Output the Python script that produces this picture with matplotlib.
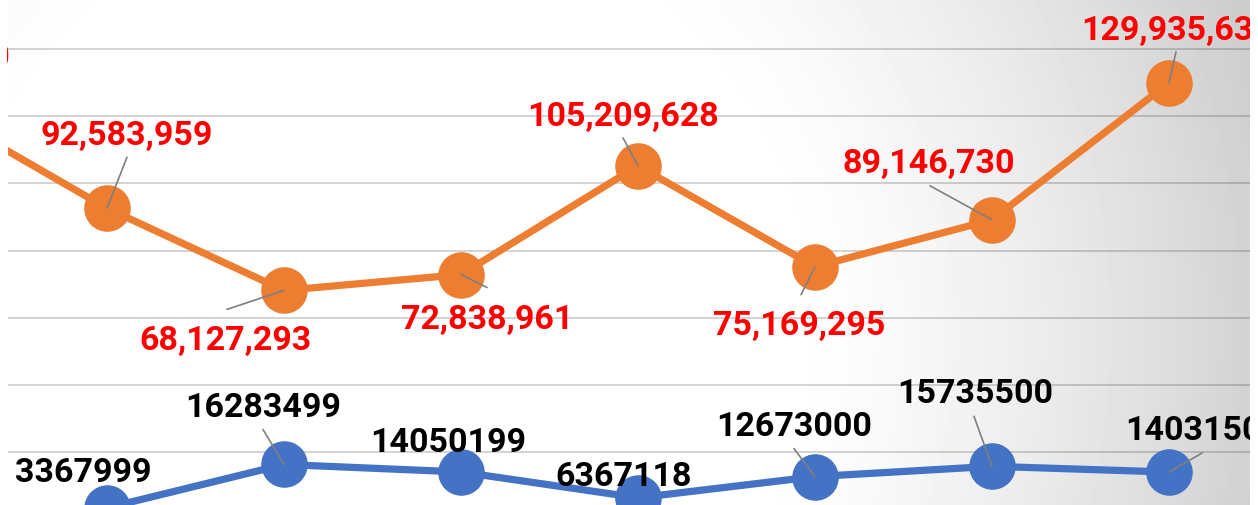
import numpy as np
import matplotlib
matplotlib.use("Agg")
import matplotlib.pyplot as plt
from matplotlib.patches import Rectangle

# data (first point sits left of the visible area)
orange_vals = [123000000, 92583959, 68127293, 72838961, 105209628, 75169295, 89146730, 129935630]
blue_vals = [np.nan, 3367999, 16283499, 14050199, 6367118, 12673000, 15735500, 14031500]
grid_ticks = [20e6, 40e6, 60e6, 80e6, 100e6, 120e6, 140e6]

# label placement in pixels: (dx, dy) of text baseline centre, (lx, ly) of leader start (None = no leader)
orange_pos = [(-16, 40, None), (20, 64, (20, 51)), (-58, -59, (-57, -19)), (26, -53, (26, -13)),
              (-15, 41, (-15, 28)), (-16, -67, (-14, -28)), (-63, 48, (-62, 34)), (8, 44, (7, 31))]
blue_pos = [None, (-24, 27, (-22, 13)), (-21, 48, (-21, 35)), (-13, 21, None), (-14, 13, None),
            (-21, 42, (-21, 28)), (-17, 64, (-18, 50)), (34, 33, (33, 19))]

W, H = 1258, 506
fig = plt.figure(figsize=(W / 100, H / 100), dpi=100)
fig.patch.set_facecolor("white")
ax = fig.add_axes([8 / W, 0, 1242 / W, 1])

# radial grey background
xs = np.arange(8, 1250) + 0.5
ys = np.arange(0, H) + 0.5
X, Y = np.meshgrid(xs, ys)
d = np.hypot(X - 380, Y - 330)
t = np.clip((d - 400) / 530, 0, 1) ** 1.4
grad = 255 - 52 * t
ax.imshow(grad, extent=[0, 1, 0, 1], transform=ax.transAxes, aspect="auto",
          cmap="gray", vmin=0, vmax=255, zorder=0, interpolation="bilinear")

x = np.arange(len(orange_vals))
ax.plot(x, orange_vals, color="#ED7D31", lw=5.2, marker="o", ms=32.5, zorder=3)
ax.plot(x, blue_vals, color="#4472C4", lw=5.2, marker="o", ms=32.5, zorder=3)

ax.set_yticks(grid_ticks)
ax.set_xlim(0.4407, 7.4576)
ax.set_ylim(4.22e6, 154.89e6)
ax.grid(axis="y", color="black", alpha=0.22, lw=1.1)
ax.set_axisbelow(False)
ax.tick_params(left=False, bottom=False, labelleft=False, labelbottom=False)
for s in ax.spines.values():
    s.set_visible(False)

clip = Rectangle((7 / W, 0), 1243 / W, 1, transform=fig.transFigure, facecolor="none")


def put_labels(vals, pos, color, fmt):
    for i, (v, p) in enumerate(zip(vals, pos)):
        if p is None or np.isnan(v):
            continue
        dx, dy, lead = p
        if lead is not None:
            ax.annotate("", xy=(i, v), xytext=lead, textcoords="offset pixels",
                        arrowprops=dict(arrowstyle="-", color="#7F7F7F", lw=1.2,
                                        shrinkA=0, shrinkB=0), zorder=4)
        t = ax.annotate(fmt(v), xy=(i, v), xytext=(dx, dy), textcoords="offset pixels",
                        ha="center", va="baseline", color=color, fontsize=24.5,
                        fontweight="bold", family=["Roboto", "DejaVu Sans"],
                        annotation_clip=False, zorder=5)
        t.set_clip_on(True)
        t.set_clip_path(clip)


put_labels(orange_vals, orange_pos, "#FF0000", lambda v: f"{int(v):,}")
put_labels(blue_vals, blue_pos, "black", lambda v: f"{int(v)}")

fig.savefig("out.png", dpi=100, facecolor="white")
